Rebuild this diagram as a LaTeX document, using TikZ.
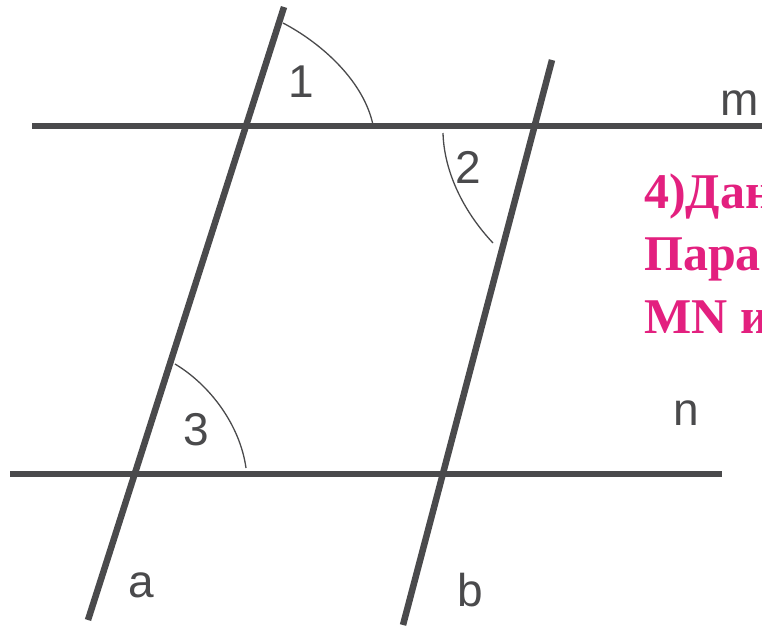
\documentclass[tikz,border=0pt]{standalone}
\usepackage{fontspec}
\setmainfont{Liberation Serif}
\newfontfamily\lblfont{Liberation Sans}
\definecolor{linegray}{HTML}{4A4A4C}
\definecolor{pinktext}{HTML}{E3207F}
\begin{document}
\begin{tikzpicture}[x=1pt,y=-1pt,
  thickline/.style={draw=linegray,line width=6.5pt},
  arcline/.style={draw=linegray,line width=1.3pt},
  lbl/.style={text=linegray,font=\lblfont\fontsize{46}{46}\selectfont,inner sep=0pt,anchor=base},
  task/.style={text=pinktext,font=\bfseries\fontsize{50}{62}\selectfont,inner sep=0pt,anchor=base west}]
\useasboundingbox (0,0) rectangle (762,627);
\fill[white] (0,0) rectangle (762,627);
% endpoints
\coordinate (m1) at (32,126);
\coordinate (m2) at (765,126);
\coordinate (n1) at (10,474);
\coordinate (n2) at (722,474);
\coordinate (a1) at (284,7);
\coordinate (a2) at (88,620);
\coordinate (b1) at (552,60);
\coordinate (b2) at (403,625);
% lines
\draw[thickline] (m1) -- (m2);
\draw[thickline] (n1) -- (n2);
\draw[thickline] (a1) -- (a2);
\draw[thickline] (b1) -- (b2);
% arcs
\coordinate (p1s) at (283,23);
\coordinate (p1e) at (373,125);
\coordinate (p2s) at (443,133);
\coordinate (p2e) at (493,243);
\coordinate (p3s) at (175,364);
\coordinate (p3e) at (246,468);
\draw[arcline] (p1s) .. controls (323,44) and (364,82) .. (p1e);
\draw[arcline] (p2s) .. controls (444,170) and (462,210) .. (p2e);
\draw[arcline] (p3s) .. controls (210,385) and (240,425) .. (p3e);
% labels
\node[lbl] (l1) at (301,97) {1};
\node[lbl] (l2) at (468,183) {2};
\node[lbl] (l3) at (196,445) {3};
\node[lbl] (lm) at (740,115) {m};
\node[lbl] (ln) at (686,425) {n};
\node[lbl] (la) at (141,597) {a};
\node[lbl] (lb) at (470,606) {b};
% task text (clipped at the right edge)
\begin{scope}
\clip (0,0) rectangle (762,627);
\node[task] (t1) at (644,208) {4)Дан};
\node[task] (t2) at (644,270) {Пара};
\node[task] (t3) at (644,333) {MN и};
\end{scope}
\end{tikzpicture}
\end{document}
